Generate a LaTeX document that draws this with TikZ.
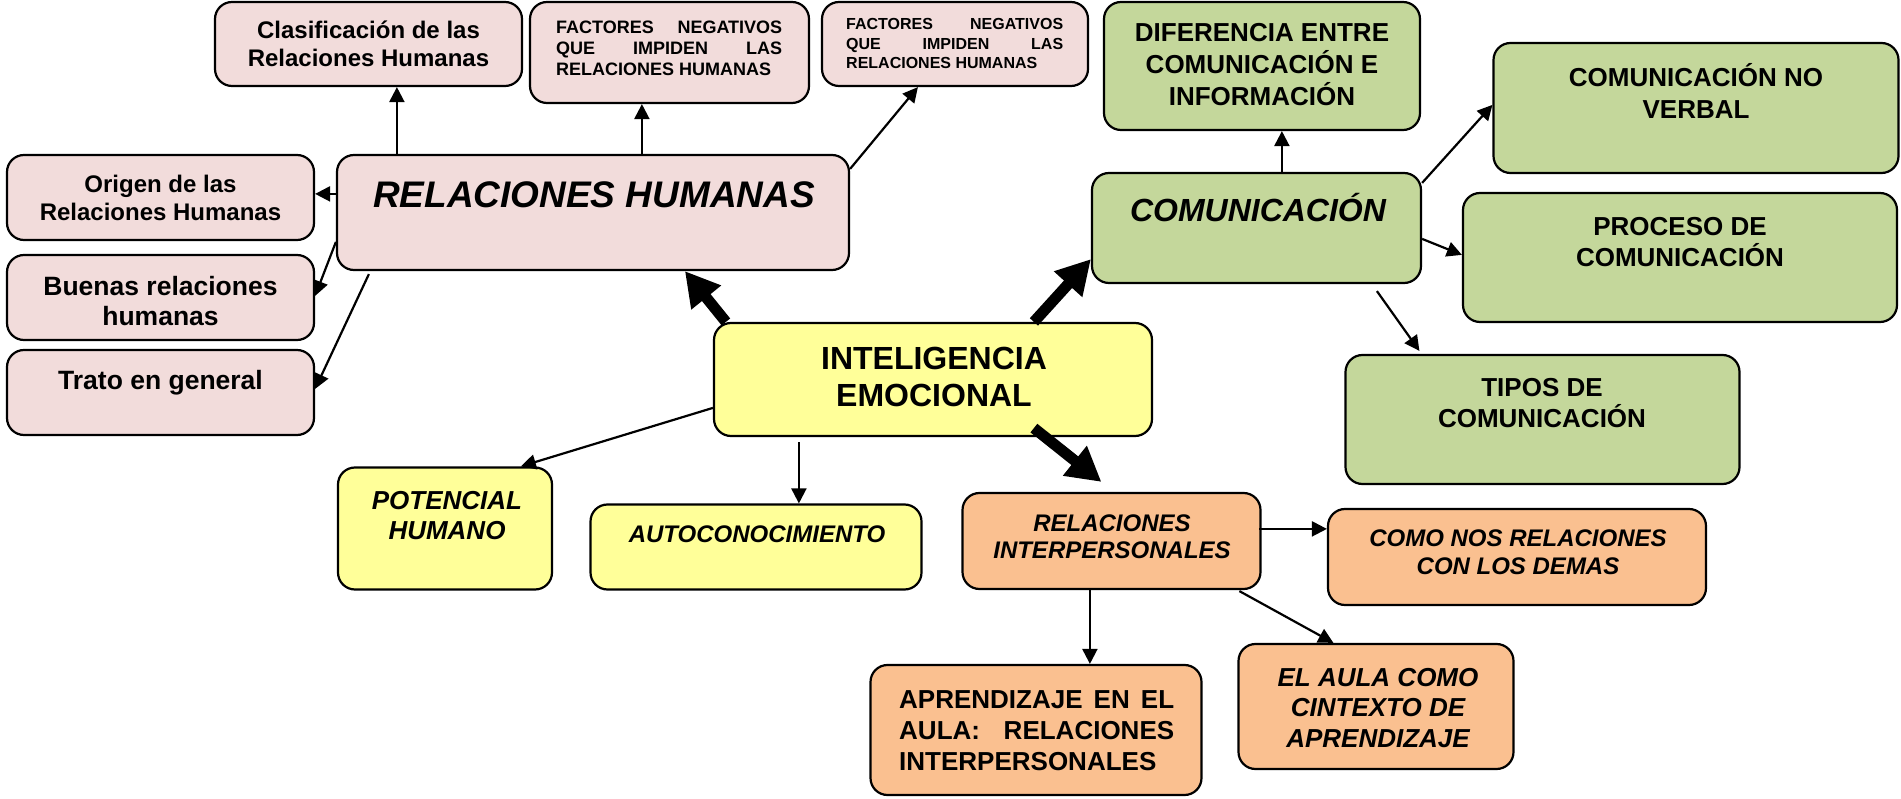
\documentclass[tikz,border=0pt]{standalone}
\usepackage{fontspec}
\setmainfont{Liberation Sans}
\usetikzlibrary{arrows.meta,calc}
\definecolor{pinkf}{HTML}{F2DCDB}
\definecolor{yelf}{HTML}{FFFF99}
\definecolor{grnf}{HTML}{C4D79B}
\definecolor{orgf}{HTML}{FAC090}
\begin{document}
\begin{tikzpicture}[x=1pt,y=-1pt,
  box/.style={draw=black, line width=2.2pt, rounded corners=17pt, inner sep=0pt},
  pk/.style={box, fill=pinkf},
  yl/.style={box, fill=yelf},
  gr/.style={box, fill=grnf},
  og/.style={box, fill=orgf},
  txt/.style={inner sep=0pt, align=center},
  arr/.style={line width=2.2pt, -{Triangle[length=15pt,width=15pt]}},
  bigarr/.style={line width=11pt, -{Triangle[length=34pt,width=36pt]}}
]
\useasboundingbox (0,0) rectangle (1901,799);
% boxes
\node[pk, minimum width=307, minimum height=84] (clas) at (368.5,44) {};
\node[pk, minimum width=279, minimum height=101] (fac1) at (669.5,52.5) {};
\node[pk, minimum width=266, minimum height=84] (fac2) at (955,44) {};
\node[pk, minimum width=307, minimum height=85] (orig) at (160.5,197.5) {};
\node[pk, minimum width=512, minimum height=115] (rh) at (593,212.5) {};
\node[pk, minimum width=307, minimum height=85] (buen) at (160.5,297.5) {};
\node[pk, minimum width=307, minimum height=85] (trato) at (160.5,392.5) {};
\node[yl, minimum width=438, minimum height=113] (ie) at (933,379.5) {};
\node[yl, minimum width=214, minimum height=122] (pot) at (445,528.5) {};
\node[yl, minimum width=331, minimum height=85] (auto) at (756,547) {};
\node[gr, minimum width=316, minimum height=128] (dif) at (1262,66) {};
\node[gr, minimum width=329, minimum height=110] (com) at (1256.5,228) {};
\node[gr, minimum width=405, minimum height=130] (cnv) at (1696,108) {};
\node[gr, minimum width=434, minimum height=129] (proc) at (1680,257.5) {};
\node[gr, minimum width=394, minimum height=129] (tipos) at (1542.5,419.5) {};
\node[og, minimum width=298, minimum height=96] (ri) at (1111.5,541) {};
\node[og, minimum width=378, minimum height=96] (como) at (1517,557) {};
\node[og, minimum width=331, minimum height=130] (apr) at (1036,730) {};
\node[og, minimum width=275, minimum height=125] (aula) at (1376,706.5) {};
% texts
\node[txt, font=\fontsize{24}{28}\selectfont\bfseries] (clast) at (368.5,43.5) {Clasificación de las\\Relaciones Humanas};
\node[txt, align=left, anchor=west, font=\fontsize{18}{21}\selectfont\bfseries] (fac1t) at (556,48.5)
  {\hbox to 226pt{FACTORES\hfil NEGATIVOS}\\\hbox to 226pt{QUE\hfil IMPIDEN\hfil LAS}\\RELACIONES HUMANAS};
\node[txt, align=left, anchor=west, font=\fontsize{16}{19.5}\selectfont\bfseries] (fac2t) at (846,43.5)
  {\hbox to 217pt{FACTORES\hfil NEGATIVOS}\\\hbox to 217pt{QUE\hfil IMPIDEN\hfil LAS}\\RELACIONES HUMANAS};
\node[txt, font=\fontsize{24}{28}\selectfont\bfseries] (origt) at (160.5,197.5) {Origen de las\\Relaciones Humanas};
\node[txt, font=\fontsize{37}{42}\selectfont\bfseries\itshape] (rht) at (594,195) {RELACIONES HUMANAS};
\node[txt, font=\fontsize{26.5}{30.5}\selectfont\bfseries] (buent) at (160.5,301) {Buenas relaciones\\humanas};
\node[txt, font=\fontsize{26.5}{30.5}\selectfont\bfseries] (tratot) at (160.5,383) {Trato en general};
\node[txt, font=\fontsize{32}{37}\selectfont\bfseries] (iet) at (934,376.5) {INTELIGENCIA\\EMOCIONAL};
\node[txt, font=\fontsize{26}{30.5}\selectfont\bfseries\itshape] (pott) at (447,515.5) {POTENCIAL\\HUMANO};
\node[txt, font=\fontsize{24}{28}\selectfont\bfseries\itshape] (autot) at (757,534) {AUTOCONOCIMIENTO};
\node[txt, font=\fontsize{26}{32}\selectfont\bfseries] (dift) at (1262,65) {DIFERENCIA ENTRE\\COMUNICACIÓN E\\INFORMACIÓN};
\node[txt, font=\fontsize{32}{37}\selectfont\bfseries\itshape] (comt) at (1258,207.5) {COMUNICACIÓN};
\node[txt, font=\fontsize{26}{31.5}\selectfont\bfseries] (cnvt) at (1696,91) {COMUNICACIÓN NO\\VERBAL};
\node[txt, font=\fontsize{26}{30.5}\selectfont\bfseries] (proct) at (1680,242) {PROCESO DE\\COMUNICACIÓN};
\node[txt, font=\fontsize{26}{31}\selectfont\bfseries] (tipost) at (1542,403.5) {TIPOS DE\\COMUNICACIÓN};
\node[txt, font=\fontsize{24}{27}\selectfont\bfseries\itshape] (rit) at (1112,536.5) {RELACIONES\\INTERPERSONALES};
\node[txt, font=\fontsize{24}{27.5}\selectfont\bfseries\itshape] (comot) at (1518,552) {COMO NOS RELACIONES\\CON LOS DEMAS};
\node[txt, align=left, anchor=west, font=\fontsize{26}{31}\selectfont\bfseries] (aprt) at (899,730.5)
  {\hbox to 275pt{APRENDIZAJE\hfil EN\hfil EL}\\\hbox to 275pt{AULA:\hfil RELACIONES}\\INTERPERSONALES};
\node[txt, font=\fontsize{26}{30.5}\selectfont\bfseries\itshape] (aulat) at (1378,708) {EL AULA COMO\\CINTEXTO DE\\APRENDIZAJE};
% connectors
\draw[arr] ($(rh.north west)+(61,0)$) -- ($(clas.south west)+(183,0)$);
\draw[arr] ($(rh.north west)+(306,0)$) -- ($(fac1.south west)+(113,0)$);
\draw[arr] ($(rh.north east)+(0,15)$) -- ($(fac2.south west)+(97,0)$);
\draw[arr] ($(rh.north west)+(0,40)$) -- ($(orig.north east)+(0,40)$);
\draw[arr] ($(rh.north west)+(0,88)$) -- ($(buen.north east)+(0,42)$);
\draw[arr] ($(rh.south west)+(33,3)$) -- ($(trato.north east)+(0,40)$);
\draw[bigarr] ($(ie.north west)+(13,0)$) -- ($(rh.south west)+(349,0)$);
\draw[bigarr] ($(ie.north west)+(321,0)$) -- ($(com.south west)+(0,-25)$);
\draw[bigarr] ($(ie.south west)+(321,-9)$) -- ($(ri.north west)+(140,-10)$);
\draw[arr] ($(ie.north west)+(0,86)$) -- ($(pot.north west)+(184,0)$);
\draw[arr] ($(ie.south west)+(86,5)$) -- ($(auto.north west)+(209.5,0)$);
\draw[arr] ($(com.north west)+(191,0)$) -- ($(dif.south west)+(179,0)$);
\draw[arr] ($(com.north east)+(0,11)$) -- ($(cnv.north west)+(0,63)$);
\draw[arr] ($(com.north east)+(0,67)$) -- ($(proc.north west)+(0,63)$);
\draw[arr] ($(com.south west)+(286,7)$) -- ($(tipos.north west)+(75,-3)$);
\draw[arr] ($(ri.north west)+(298,37)$) -- ($(como.north west)+(0,21)$);
\draw[arr] ($(ri.south west)+(128.5,0)$) -- ($(apr.north west)+(220.5,0)$);
\draw[arr] ($(ri.south west)+(278,1)$) -- ($(aula.north west)+(96,0)$);
\end{tikzpicture}
\end{document}
